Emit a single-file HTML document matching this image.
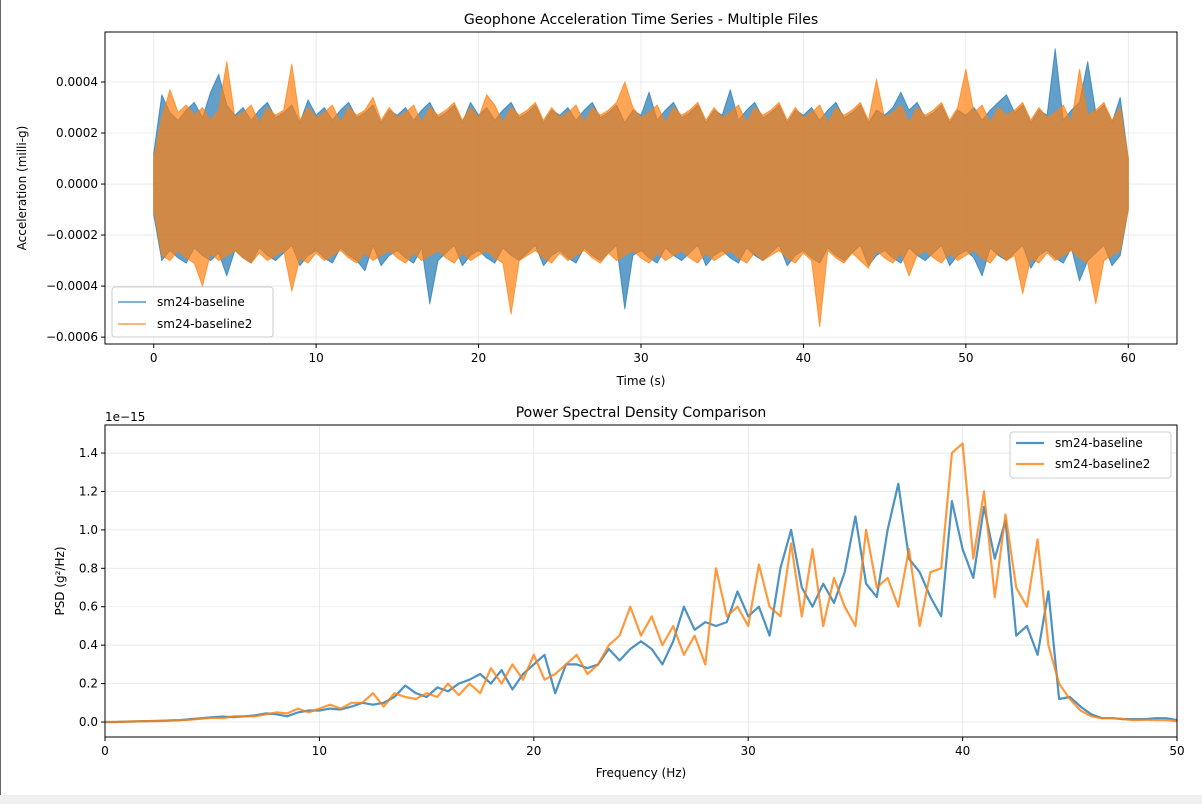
<!DOCTYPE html>
<html><head><meta charset="utf-8"><style>
body{margin:0;width:1202px;height:804px;overflow:hidden;background:#fff;font-family:"Liberation Sans","DejaVu Sans",sans-serif;}
svg text{font-family:"DejaVu Sans","Liberation Sans",sans-serif;fill:#000;}
</style></head><body>
<svg id="fig" width="1202" height="804" xmlns="http://www.w3.org/2000/svg">
<rect x="0" y="0" width="1202" height="804" fill="#fff"/>
<rect x="0" y="795" width="1202" height="9" fill="#f0f0f0"/>
<line x1="0.5" y1="0" x2="0.5" y2="795" stroke="#666"/>
<g id="topChart"></g>
<g id="botChart"></g>
</svg>
<script>
// Time series envelopes: max/min per 0.5 s window (units of 1e-5 milli-g)
const tsStep = 0.5;
const blueMax = [12,35,28,25,29,32,26,36,43,31,
27,30,25,29,32,26,28,31,24,33,
27,30,25,29,32,26,28,31,24,29,
27,30,25,29,32,26,28,31,24,32,
27,30,25,29,32,26,28,31,24,29,
27,30,25,29,32,26,28,31,24,29,
27,36,25,29,32,26,28,31,24,29,
27,37,25,29,32,26,28,31,24,29,
27,30,25,29,32,26,28,31,24,29,
27,30,36,29,32,26,28,31,24,29,
27,30,25,29,32,35,28,31,24,29,
27,53,25,29,32,48,28,31,24,34,10];
const blueMin = [-12,-30,-26,-29,-31,-25,-28,-30,-27,-36,
-26,-29,-31,-25,-28,-30,-27,-24,-32,-28,
-26,-29,-31,-25,-28,-30,-34,-24,-32,-28,
-26,-29,-31,-25,-47,-30,-27,-24,-32,-28,
-26,-29,-31,-25,-28,-30,-27,-24,-32,-28,
-26,-29,-31,-25,-28,-30,-27,-24,-49,-28,
-26,-29,-31,-25,-28,-30,-27,-24,-32,-28,
-26,-29,-31,-25,-28,-30,-27,-24,-32,-28,
-26,-29,-31,-25,-28,-30,-27,-24,-32,-28,
-26,-29,-31,-25,-28,-30,-27,-24,-32,-28,
-26,-29,-36,-25,-28,-30,-27,-24,-33,-28,
-26,-29,-31,-25,-38,-30,-27,-24,-32,-28,-10];
const orangeMax = [10,26,37,28,31,27,30,25,29,48,
26,28,31,24,30,27,29,47,25,30,
26,28,31,24,30,27,29,34,25,30,
26,28,31,24,30,27,29,32,25,30,
26,35,31,24,30,27,29,32,25,30,
26,28,31,24,30,27,29,32,40,30,
26,28,31,24,30,27,29,32,25,30,
26,28,31,24,30,27,29,32,25,30,
26,28,31,24,30,27,29,32,25,41,
26,28,31,24,30,27,29,32,25,30,
45,28,31,24,30,27,29,32,25,30,
26,28,31,24,45,27,29,32,25,30,10];
const orangeMin = [-10,-28,-30,-26,-29,-31,-40,-27,-30,-28,
-26,-29,-31,-27,-30,-28,-26,-42,-29,-31,
-27,-30,-28,-26,-29,-31,-27,-30,-28,-26,
-29,-31,-27,-30,-28,-26,-29,-31,-27,-30,
-28,-26,-29,-31,-51,-30,-28,-26,-29,-31,
-27,-30,-28,-26,-29,-31,-27,-30,-28,-26,
-29,-31,-27,-30,-28,-26,-29,-31,-27,-30,
-28,-26,-29,-31,-27,-30,-28,-26,-29,-31,
-27,-30,-56,-26,-29,-31,-27,-30,-33,-26,
-29,-31,-27,-36,-28,-26,-29,-31,-27,-30,
-28,-26,-29,-31,-27,-30,-28,-43,-29,-31,
-27,-30,-28,-26,-29,-31,-47,-30,-28,-26,-10];
const topXTicks = [0,10,20,30,40,50,60];
const topYTicks = [-0.0006,-0.0004,-0.0002,0,0.0002,0.0004];
const topYLabels = ["\u22120.0006","\u22120.0004","\u22120.0002","0.0000","0.0002","0.0004"];
// PSD values (x1e-15), every 0.5 Hz from 0 to 50
const psdStep = 0.5;
const bluePSD = [0,0,0.002,0.003,0.005,0.006,0.008,0.01,0.015,0.02,
0.025,0.028,0.025,0.03,0.035,0.045,0.04,0.03,0.05,0.06,
0.06,0.07,0.065,0.08,0.1,0.09,0.1,0.13,0.19,0.15,
0.13,0.18,0.16,0.2,0.22,0.25,0.2,0.27,0.17,0.25,
0.3,0.35,0.15,0.3,0.3,0.28,0.3,0.38,0.32,0.38,
0.42,0.38,0.3,0.42,0.6,0.48,0.52,0.5,0.52,0.68,
0.55,0.6,0.45,0.8,1.0,0.7,0.6,0.72,0.62,0.78,
1.07,0.72,0.65,1.0,1.24,0.85,0.78,0.65,0.55,1.15,
0.9,0.75,1.12,0.85,1.05,0.45,0.5,0.35,0.68,0.12,
0.13,0.08,0.04,0.02,0.02,0.015,0.015,0.015,0.02,0.02,0.01];
const orangePSD = [0,0,0.002,0.003,0.005,0.005,0.008,0.01,0.012,0.018,
0.022,0.02,0.03,0.03,0.03,0.04,0.05,0.045,0.07,0.05,
0.07,0.09,0.07,0.1,0.1,0.15,0.08,0.15,0.13,0.12,
0.15,0.13,0.2,0.14,0.2,0.15,0.28,0.2,0.3,0.22,
0.35,0.22,0.25,0.3,0.35,0.25,0.3,0.4,0.45,0.6,
0.45,0.55,0.4,0.5,0.35,0.45,0.3,0.8,0.55,0.6,
0.5,0.82,0.6,0.55,0.93,0.55,0.9,0.5,0.75,0.6,
0.5,1.0,0.7,0.75,0.6,0.9,0.5,0.78,0.8,1.4,
1.45,0.85,1.2,0.65,1.08,0.7,0.6,0.95,0.4,0.2,
0.12,0.06,0.03,0.02,0.02,0.015,0.01,0.012,0.01,0.01,0.005];
const botXTicks = [0,10,20,30,40,50];
const botYTicks = [0,0.2,0.4,0.6,0.8,1.0,1.2,1.4];

const NS="http://www.w3.org/2000/svg";
function mk(parent,tag,attrs,text){const e=document.createElementNS(NS,tag);for(const k in attrs)e.setAttribute(k,attrs[k]);if(text!==undefined)e.textContent=text;parent.appendChild(e);return e;}

// ---- top chart ----
const T={x0:105,x1:1177,y0:32,y1:344,xmin:-3.0,xmax:63.0,ymin:-0.000627,ymax:0.000596};
const tx=v=>T.x0+(v-T.xmin)/(T.xmax-T.xmin)*(T.x1-T.x0);
const ty=v=>T.y1-(v-T.ymin)/(T.ymax-T.ymin)*(T.y1-T.y0);
const topG=document.getElementById('topChart');
topXTicks.forEach(v=>{const X=tx(v);
 const g=mk(topG,'line',{x1:X,y1:T.y0,x2:X,y2:T.y1,stroke:'#e6e6e6','stroke-width':0.8});
 
 
 mk(topG,'line',{x1:X,y1:T.y1,x2:X,y2:T.y1+4,stroke:'#000'});
 const t=mk(topG,'text',{x:X,y:T.y1+18,'text-anchor':'middle','font-size':12},String(v));
 
 });
topYTicks.forEach((v,i)=>{const Y=ty(v);
 const g=mk(topG,'line',{x1:T.x0,y1:Y,x2:T.x1,y2:Y,stroke:'#e6e6e6','stroke-width':0.8});
 
 
 mk(topG,'line',{x1:T.x0-4,y1:Y,x2:T.x0,y2:Y,stroke:'#000'});
 const t=mk(topG,'text',{x:T.x0-7,y:Y+4,'text-anchor':'end','font-size':12},topYLabels[i]);
 
 });
function tsEnv(maxA,minA,color,name){
 let d=maxA.map((v,i)=>(i?'L':'M')+tx(i*tsStep).toFixed(1)+','+ty(v*1e-5).toFixed(1)).join('');
 for(let i=minA.length-1;i>=0;i--) d+='L'+tx(i*tsStep).toFixed(1)+','+ty(minA[i]*1e-5).toFixed(1);
 d+='Z';
 const p=mk(topG,'path',{d:d,fill:color,'fill-opacity':0.7,stroke:color,'stroke-opacity':0.7,'stroke-width':1,'stroke-linejoin':'round'});
 
 }
tsEnv(blueMax,blueMin,'#1f77b4','series-sm24-baseline');
tsEnv(orangeMax,orangeMin,'#ff7f0e','series-sm24-baseline2');
mk(topG,'rect',{x:T.x0,y:T.y0,width:T.x1-T.x0,height:T.y1-T.y0,fill:'none',stroke:'#000','stroke-width':1});
let e=mk(topG,'text',{x:641,y:24,'text-anchor':'middle','font-size':14},'Geophone Acceleration Time Series - Multiple Files');


e=mk(topG,'text',{x:641,y:385,'text-anchor':'middle','font-size':12},'Time (s)');


e=mk(topG,'text',{x:26,y:188,'text-anchor':'middle','font-size':12,transform:'rotate(-90 26 188)'},'Acceleration (milli-g)');


const lg=mk(topG,'g',{});


mk(lg,'rect',{x:112,y:287,width:161,height:50,rx:3,fill:'#fff','fill-opacity':0.85,stroke:'#ccc'});
mk(lg,'line',{x1:118,y1:302,x2:146,y2:302,stroke:'#1f77b4','stroke-width':1.6,'stroke-opacity':0.75});
mk(lg,'text',{x:157,y:306,'font-size':12},'sm24-baseline');
mk(lg,'line',{x1:118,y1:324,x2:146,y2:324,stroke:'#ff7f0e','stroke-width':1.6,'stroke-opacity':0.75});
mk(lg,'text',{x:157,y:328,'font-size':12},'sm24-baseline2');

// ---- bottom chart ----
const B={x0:105,x1:1177,y0:425,y1:737,xmin:0,xmax:50,ymin:-0.078,ymax:1.546};
const bx=v=>B.x0+(v-B.xmin)/(B.xmax-B.xmin)*(B.x1-B.x0);
const by=v=>B.y1-(v-B.ymin)/(B.ymax-B.ymin)*(B.y1-B.y0);
const botG=document.getElementById('botChart');
botXTicks.forEach(v=>{const X=bx(v);
 const g=mk(botG,'line',{x1:X,y1:B.y0,x2:X,y2:B.y1,stroke:'#e6e6e6','stroke-width':0.8});
 
 
 mk(botG,'line',{x1:X,y1:B.y1,x2:X,y2:B.y1+4,stroke:'#000'});
 const t=mk(botG,'text',{x:X,y:B.y1+18,'text-anchor':'middle','font-size':12},String(v));
 
 });
botYTicks.forEach(v=>{const Y=by(v);
 const g=mk(botG,'line',{x1:B.x0,y1:Y,x2:B.x1,y2:Y,stroke:'#e6e6e6','stroke-width':0.8});
 
 
 mk(botG,'line',{x1:B.x0-4,y1:Y,x2:B.x0,y2:Y,stroke:'#000'});
 const t=mk(botG,'text',{x:B.x0-7,y:Y+4,'text-anchor':'end','font-size':12},v.toFixed(1));
 
 });
function psdPath(arr,color,name){const d=arr.map((v,i)=>(i?'L':'M')+bx(i*psdStep).toFixed(1)+','+by(v).toFixed(1)).join('');
 const p=mk(botG,'path',{d:d,fill:'none',stroke:color,'stroke-width':2.2,'stroke-opacity':0.8,'stroke-linejoin':'round'});
 
 }
psdPath(bluePSD,'#1f77b4','psd-sm24-baseline');
psdPath(orangePSD,'#ff7f0e','psd-sm24-baseline2');
mk(botG,'rect',{x:B.x0,y:B.y0,width:B.x1-B.x0,height:B.y1-B.y0,fill:'none',stroke:'#000','stroke-width':1});
e=mk(botG,'text',{x:641,y:417,'text-anchor':'middle','font-size':14},'Power Spectral Density Comparison');


e=mk(botG,'text',{x:105,y:421,'font-size':12},'1e\u221215');


e=mk(botG,'text',{x:641,y:777,'text-anchor':'middle','font-size':12},'Frequency (Hz)');


e=mk(botG,'text',{x:64,y:581,'text-anchor':'middle','font-size':12,transform:'rotate(-90 64 581)'},'PSD (g\u00b2/Hz)');


const lg2=mk(botG,'g',{});


mk(lg2,'rect',{x:1010,y:432,width:161,height:46,rx:3,fill:'#fff','fill-opacity':0.85,stroke:'#ccc'});
mk(lg2,'line',{x1:1016,y1:443,x2:1044,y2:443,stroke:'#1f77b4','stroke-width':2.2,'stroke-opacity':0.8});
mk(lg2,'text',{x:1055,y:447,'font-size':12},'sm24-baseline');
mk(lg2,'line',{x1:1016,y1:464,x2:1044,y2:464,stroke:'#ff7f0e','stroke-width':2.2,'stroke-opacity':0.8});
mk(lg2,'text',{x:1055,y:468,'font-size':12},'sm24-baseline2');
</script>
</body></html>
